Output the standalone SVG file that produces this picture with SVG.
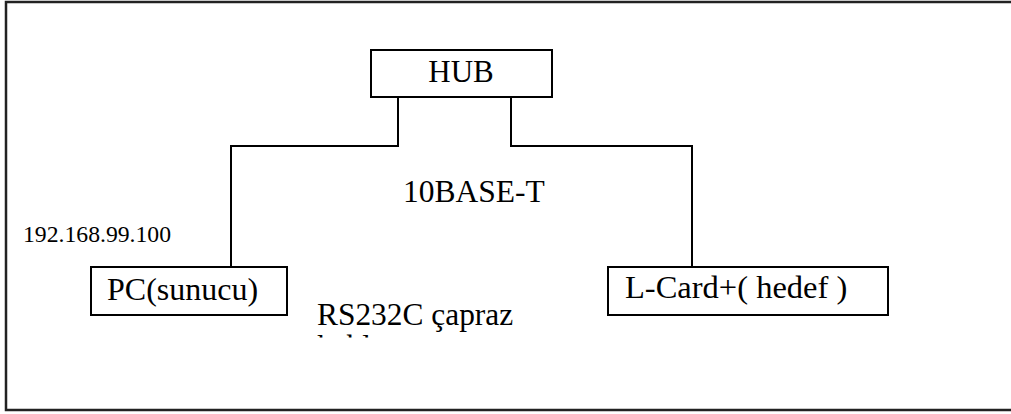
<svg xmlns="http://www.w3.org/2000/svg" width="1011" height="414" viewBox="0 0 1011 414">
<style>
.box{fill:#fff;stroke:#000;stroke-width:2}
.t{font-family:"Liberation Serif","Times New Roman",serif;fill:#000}
.c{fill:none;stroke:#000;stroke-width:2}
</style>
<rect width="1011" height="414" fill="#fff"/>
<path d="M1011 2 H6 V410 H1011" fill="none" stroke="#222" stroke-width="2.5"/>
<g id="connectors">
<path class="c" d="M398 97 V146 H231 V267"/>
<path class="c" d="M511 97 V146 H692 V267"/>
</g>
<g id="hub">
<rect class="box" x="371" y="50" width="181" height="47"/>
<text class="t" x="461" y="82" font-size="31" text-anchor="middle">HUB</text>
</g>
<g id="pc">
<rect class="box" x="91" y="267" width="196" height="48"/>
<text class="t" x="107" y="300" font-size="32">PC(sunucu)</text>
</g>
<g id="lcard">
<rect class="box" x="608" y="267" width="280" height="48"/>
<text class="t" x="625" y="298" font-size="32.5" xml:space="preserve">L-Card+( hedef )</text>
</g>
<g id="labels">
<text class="t" x="403" y="202" font-size="31.5">10BASE-T</text>
<text class="t" x="23" y="242" font-size="23.7">192.168.99.100</text>
<text class="t" x="317" y="325" font-size="31.4">RS232C çapraz</text>
<clipPath id="cl"><rect x="300" y="334" width="300" height="3.5"/></clipPath>
<text class="t" x="317" y="357" font-size="31.4" clip-path="url(#cl)">kablo</text>
</g>
</svg>
